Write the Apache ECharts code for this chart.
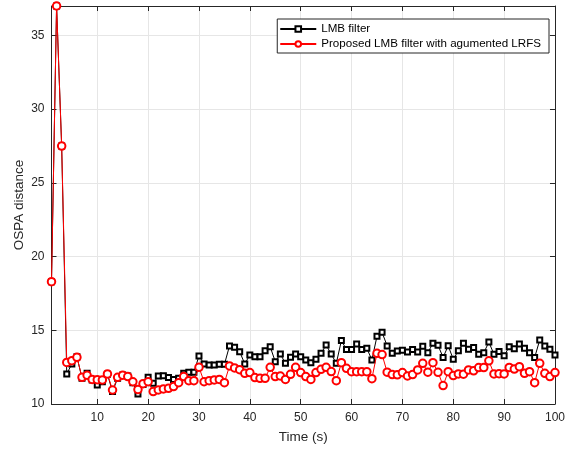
<!DOCTYPE html>
<html>
<head>
<meta charset="utf-8">
<script src="https://cdn.jsdelivr.net/npm/echarts@6/dist/echarts.min.js"></script>
<style>html,body{margin:0;padding:0;background:#fff;}#c{width:568px;height:450px;}</style>
</head>
<body>
<div id="c"></div>
<script>
var timeSteps = [];
for (var i = 1; i <= 100; i++) timeSteps.push(i);

var lmbValues = [18.3,37.0,27.5,12.04,12.72,13.21,11.74,12.08,11.63,11.29,
11.51,12.01,10.84,11.74,11.97,11.9,11.45,10.68,11.32,11.81,
11.4,11.9,11.92,11.79,11.67,11.74,12.08,12.15,12.15,13.26,
12.72,12.65,12.65,12.69,12.69,13.94,13.85,13.55,12.72,13.33,
13.21,13.21,13.62,13.89,12.87,13.39,12.76,13.17,13.39,13.21,
12.99,12.8,13.03,13.44,14.0,13.39,12.76,14.3,13.7,13.7,
14.07,13.7,13.78,12.99,14.6,14.86,13.94,13.44,13.6,13.65,
13.52,13.7,13.52,13.92,13.48,14.12,13.98,13.16,13.95,13.03,
13.61,14.12,13.71,13.83,13.37,13.47,14.2,13.37,13.57,13.27,
13.88,13.75,14.07,13.78,13.48,13.15,14.34,13.94,13.71,13.33];

var proposedValues = [18.3,37.0,27.5,12.82,12.94,13.17,11.81,11.95,11.67,11.65,
11.63,12.04,10.95,11.81,11.95,11.86,11.51,10.98,11.38,11.51,
10.84,10.95,11.02,11.06,11.18,11.45,11.86,11.58,11.58,12.49,
11.51,11.58,11.63,11.67,11.45,12.58,12.45,12.33,12.08,12.13,
11.79,11.74,11.74,12.49,11.86,11.9,11.67,12.01,12.49,12.13,
11.86,11.67,12.13,12.35,12.49,12.2,11.58,12.8,12.42,12.19,
12.19,12.19,12.19,11.72,13.44,13.35,12.16,12.0,11.98,12.13,
11.9,12.0,12.31,12.76,12.16,12.8,12.15,11.25,12.19,11.93,
12.04,12.02,12.31,12.25,12.47,12.47,12.93,12.04,12.06,12.04,
12.48,12.37,12.53,12.08,12.19,11.45,12.76,12.08,11.86,12.13];

var xTicks = [10,20,30,40,50,60,70,80,90,100];
var yTicks = [10,15,20,25,30,35];
var seriesNames = ['LMB filter', 'Proposed LMB filter with agumented LRFS'];

function pairs(vals) {
  return timeSteps.map(function (t, i) { return [t, vals[i]]; });
}

var FONT = 'Liberation Sans, Arial, sans-serif';
var AX = '#262626';

var chart = echarts.init(document.getElementById('c'), null, {renderer: 'canvas'});
var xBase = {
  type: 'value', min: 1, max: 100,
  axisLine: {show: true, lineStyle: {color: AX, width: 1}},
  axisTick: {show: true, inside: true, length: 5, lineStyle: {color: AX}, customValues: xTicks},
  splitLine: {show: false},
  axisLabel: {show: false}
};
var yBase = {
  type: 'value', min: 10, max: 37,
  axisLine: {show: true, lineStyle: {color: AX, width: 1}},
  axisTick: {show: true, inside: true, length: 5, lineStyle: {color: AX}, customValues: yTicks},
  splitLine: {show: false},
  axisLabel: {show: false}
};
var option = {
  animation: false,
  backgroundColor: '#fff',
  grid: {left: 51.5, right: 12, top: 6, bottom: 46, containLabel: false},
  legend: {
    data: seriesNames,
    orient: 'vertical',
    right: 19, top: 19,
    backgroundColor: '#fff',
    borderColor: AX, borderWidth: 1,
    padding: [4, 8, 3, 2],
    itemGap: 3,
    itemWidth: 36, itemHeight: 7,
    textStyle: {fontFamily: FONT, fontSize: 11.6, color: '#000'}
  },
  xAxis: [
    Object.assign({}, xBase, {
      position: 'bottom',
      name: 'Time (s)', nameLocation: 'middle', nameGap: 26, nameMoveOverlap: false,
      nameTextStyle: {fontFamily: FONT, fontSize: 13.5, color: AX},
      axisLabel: {show: true, customValues: xTicks, fontFamily: FONT, fontSize: 12, color: AX, margin: 8},
      splitLine: {show: true, lineStyle: {color: '#e6e6e6', width: 1}}
    }),
    Object.assign({}, xBase, {position: 'top'})
  ],
  yAxis: [
    Object.assign({}, yBase, {
      position: 'left',
      name: 'OSPA distance', nameLocation: 'middle', nameGap: 25, nameMoveOverlap: false,
      nameTextStyle: {fontFamily: FONT, fontSize: 13.5, color: AX},
      axisLabel: {show: true, customValues: yTicks, fontFamily: FONT, fontSize: 12, color: AX, margin: 7},
      splitLine: {show: true, lineStyle: {color: '#e6e6e6', width: 1}}
    }),
    Object.assign({}, yBase, {position: 'right'})
  ],
  series: [
    {
      name: seriesNames[0], type: 'line', data: pairs(lmbValues),
      symbol: 'emptyRect', symbolSize: 5, showAllSymbol: true,
      lineStyle: {color: '#000', width: 1},
      itemStyle: {color: '#000', borderColor: '#000', borderWidth: 1},
      z: 2
    },
    {
      name: seriesNames[1], type: 'line', data: pairs(proposedValues),
      symbol: 'emptyCircle', symbolSize: 7.5, showAllSymbol: true,
      lineStyle: {color: '#ff0000', width: 1},
      itemStyle: {color: '#ff0000', borderColor: '#ff0000', borderWidth: 1},
      z: 3
    }
  ]
};
chart.setOption(option);
</script>
</body>
</html>
